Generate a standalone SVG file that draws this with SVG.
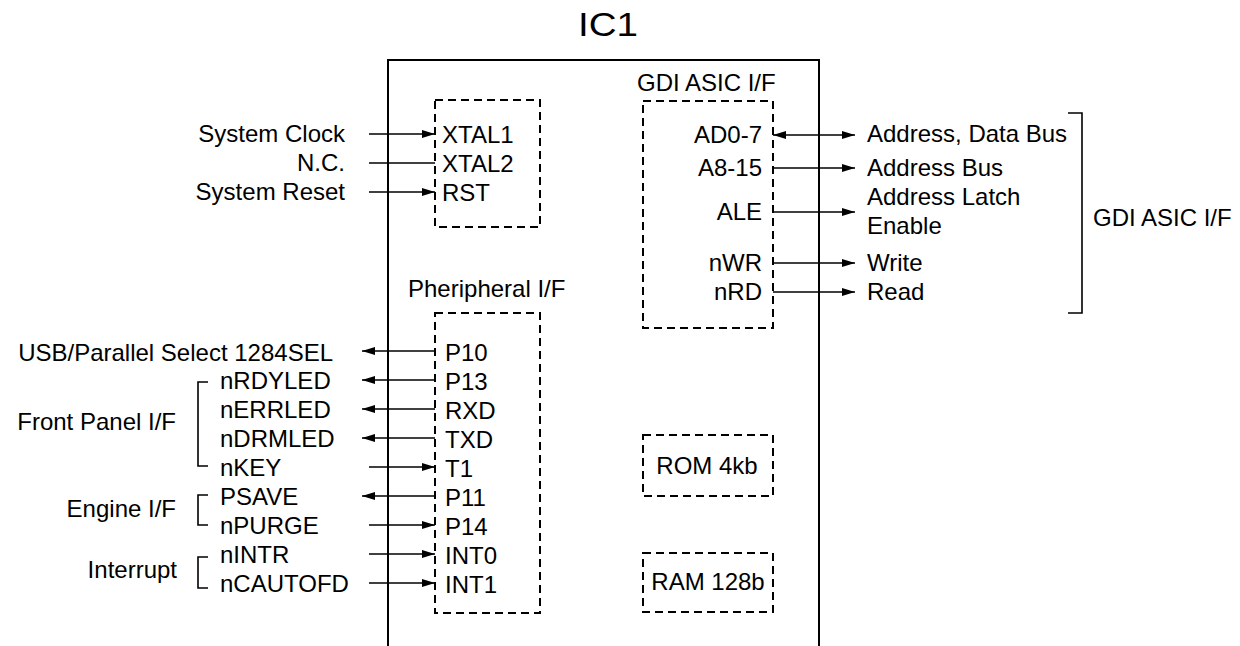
<svg xmlns="http://www.w3.org/2000/svg" width="1240" height="646" viewBox="0 0 1240 646">
<style>
text{font-family:"Liberation Sans",Arial,sans-serif;font-size:24px;fill:#000}
.e{text-anchor:end}
.m{text-anchor:middle}
.box{fill:none;stroke:#000;stroke-width:2}
.dash{fill:none;stroke:#000;stroke-width:2;stroke-dasharray:8 5}
.ln{fill:none;stroke:#000;stroke-width:1.6}
.arr{marker-end:url(#ah)}
.br{fill:none;stroke:#000;stroke-width:1.6}
</style>
<defs>
<marker id="ah" markerUnits="userSpaceOnUse" markerWidth="13" markerHeight="9" refX="13" refY="4.5" orient="auto-start-reverse">
<path d="M0,0.5 L13,4.5 L0,8.5 z" fill="#000"/>
</marker>
</defs>
<rect width="1240" height="646" fill="#fff"/>
<g id="title"><text x="578" y="36" style="font-size:34px" textLength="60" lengthAdjust="spacingAndGlyphs">IC1</text></g>
<g id="ic1"><path class="box" d="M388,648 V60 H819 V648"/></g>
<g id="clock-block">
<rect class="dash" x="435" y="100" width="105" height="127"/>
<text x="442" y="143">XTAL1</text>
<text x="442" y="172">XTAL2</text>
<text x="442" y="201">RST</text>
</g>
<g id="gdi-block">
<text x="637" y="91">GDI ASIC I/F</text>
<rect class="dash" x="643" y="101" width="130" height="227"/>
<text x="762" y="143" class="e">AD0-7</text>
<text x="762" y="176" class="e">A8-15</text>
<text x="762" y="220" class="e">ALE</text>
<text x="762" y="271" class="e">nWR</text>
<text x="762" y="300" class="e">nRD</text>
</g>
<g id="peripheral-block">
<text x="408" y="297">Pheripheral I/F</text>
<rect class="dash" x="435" y="313" width="105" height="300"/>
<text x="445" y="361">P10</text>
<text x="445" y="390">P13</text>
<text x="445" y="419">RXD</text>
<text x="445" y="448">TXD</text>
<text x="445" y="477">T1</text>
<text x="445" y="506">P11</text>
<text x="445" y="535">P14</text>
<text x="445" y="564">INT0</text>
<text x="445" y="593">INT1</text>
</g>
<g id="rom"><rect class="dash" x="643" y="435" width="130" height="61"/><text x="707" y="474" class="m">ROM 4kb</text></g>
<g id="ram"><rect class="dash" x="643" y="553" width="130" height="59"/><text x="708" y="590" class="m">RAM 128b</text></g>
<g id="left-labels">
<text x="345" y="142" class="e">System Clock</text>
<text x="345" y="171" class="e">N.C.</text>
<text x="345" y="200" class="e">System Reset</text>
<text x="333" y="361" class="e">USB/Parallel Select 1284SEL</text>
<text x="220" y="389">nRDYLED</text>
<text x="220" y="418">nERRLED</text>
<text x="220" y="447">nDRMLED</text>
<text x="220" y="476">nKEY</text>
<text x="220" y="505">PSAVE</text>
<text x="220" y="534">nPURGE</text>
<text x="220" y="563">nINTR</text>
<text x="220" y="592">nCAUTOFD</text>
<text x="176" y="430" class="e">Front Panel I/F</text>
<text x="176" y="517" class="e">Engine I/F</text>
<text x="177" y="578" class="e">Interrupt</text>
<path class="br" d="M208,382 H198 V466 H208"/>
<path class="br" d="M208,495 H198 V525 H208"/>
<path class="br" d="M208,557 H198 V588 H208"/>
</g>
<g id="right-labels">
<text x="867" y="142">Address, Data Bus</text>
<text x="867" y="176">Address Bus</text>
<text x="867" y="205">Address Latch</text>
<text x="867" y="234">Enable</text>
<text x="867" y="271">Write</text>
<text x="867" y="300">Read</text>
<path class="br" d="M1068,113 H1082 V313 H1068"/>
<text x="1093" y="226">GDI ASIC I/F</text>
</g>
<g id="connectors">
<path class="ln arr" d="M369,134 H435"/>
<path class="ln" d="M369,163 H435"/>
<path class="ln arr" d="M369,192 H435"/>
<path class="ln arr" d="M435,351 H362"/>
<path class="ln arr" d="M435,380 H362"/>
<path class="ln arr" d="M435,409 H362"/>
<path class="ln arr" d="M435,438 H362"/>
<path class="ln arr" d="M369,467 H435"/>
<path class="ln arr" d="M435,496 H362"/>
<path class="ln arr" d="M369,525 H435"/>
<path class="ln arr" d="M369,554 H435"/>
<path class="ln arr" d="M369,583 H435"/>
<path class="ln arr" d="M773,135 H855" style="marker-start:url(#ah)"/>
<path class="ln arr" d="M773,168 H855"/>
<path class="ln arr" d="M773,212 H855"/>
<path class="ln arr" d="M773,263 H855"/>
<path class="ln arr" d="M773,292 H855"/>
</g>
</svg>
